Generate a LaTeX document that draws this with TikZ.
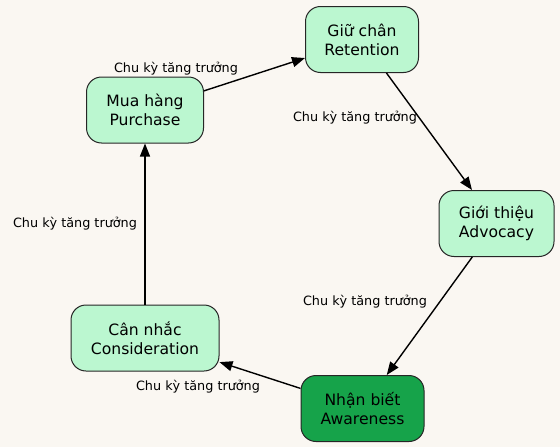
\documentclass[tikz,border=0pt]{standalone}
\usepackage{fontspec}
\setmainfont{DejaVu Sans}
\usetikzlibrary{arrows.meta, positioning}
\definecolor{bgcream}{HTML}{FAF7F2}
\definecolor{mintfill}{HTML}{BBF7D0}
\definecolor{deepgreen}{HTML}{16A34A}

\begin{document}
\begin{tikzpicture}[x=1pt, y=-1pt,
            stage/.style={rectangle, rounded corners=15pt, draw=black!85, line width=1pt, fill=mintfill, minimum height=66pt, align=center, font=\fontsize{15.6}{19}\selectfont, inner sep=0pt},
            cycle/.style={font=\fontsize{12.8}{15}\selectfont},
            flow/.style={-{Triangle[length=13pt, width=10pt]}, line width=1.4pt}]

            \fill[bgcream] (0,0) rectangle (560,447);
            \useasboundingbox (0,0) rectangle (560,447);

            \node[stage, minimum width=113pt] (retention) at (362,39.5) {Giữ chân\\Retention};
            \node[stage, minimum width=117pt] (purchase) at (145,110) {Mua hàng\\Purchase};
            \node[stage, minimum width=115pt] (advocacy) at (496.5,223.5) {Giới thiệu\\Advocacy};
            \node[stage, minimum width=148pt] (consider) at (145,338) {Cân nhắc\\Consideration};
            \node[stage, minimum width=123pt, fill=deepgreen] (aware) at (362.5,408.5) {Nhận biết\\Awareness};

            \node[cycle] (lab1) at (198,387) {Chu kỳ tăng trưởng};
            \node[cycle] (lab2) at (75,224) {Chu kỳ tăng trưởng};
            \node[cycle] (lab3) at (176,69) {Chu kỳ tăng trưởng};
            \node[cycle] (lab4) at (355,118) {Chu kỳ tăng trưởng};
            \node[cycle] (lab5) at (365,302) {Chu kỳ tăng trưởng};

            \draw[flow] (aware) -- (consider);
            \draw[flow] (consider) -- (purchase);
            \draw[flow] (purchase) -- (retention);
            \draw[flow] (retention) -- (advocacy);
            \draw[flow] (advocacy) -- (aware);
        \end{tikzpicture}
\end{document}
